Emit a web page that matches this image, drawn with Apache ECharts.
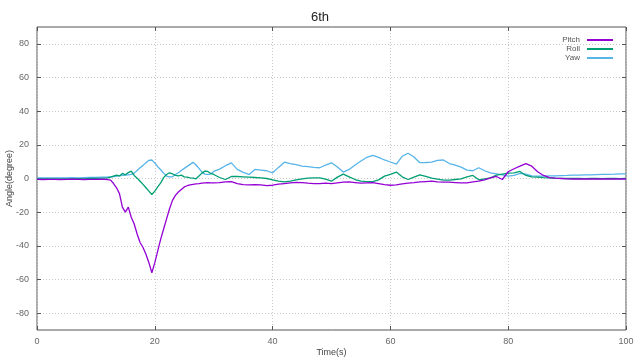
<!DOCTYPE html>
<html><head><meta charset="utf-8">
<script src="https://cdn.jsdelivr.net/npm/echarts@6/dist/echarts.min.js"></script>
<style>html,body{margin:0;padding:0;background:#fff}#c{width:640px;height:360px}</style>
</head><body><div id="c"></div>
<script>
const time = [0,1,2,3,4,5,6,7,8,9,10,11,12,
12.5,13,13.5,14,14.5,15,15.5,16,16.5,17,17.5,18,18.5,19,19.5,20,20.5,21,21.5,22,22.5,23,23.5,24,24.5,25,25.5,26,26.5,27,27.5,28,28.5,29,29.5,30,
31,32,33,34,35,36,37,38,39,40,41,42,43,44,45,46,47,48,49,50,51,52,53,54,55,56,57,58,59,60,61,62,63,64,65,66,67,68,69,70,71,72,73,74,75,76,77,78,79,80,81,82,83,84,85,86,87,88,89,90,91,92,93,94,95,96,97,98,99,100];

const pitch = [-0.5,-0.6,-0.5,-0.5,-0.6,-0.5,-0.4,-0.5,-0.6,-0.5,-0.5,-0.4,-0.6,
-1.0,-3.0,-5.5,-9,-17,-20,-17,-23,-27,-33,-38,-41,-45,-50,-56,-50,-43,-36,-30,-24,-18,-13,-10,-8,-6.5,-5,-4.3,-3.8,-3.5,-3.2,-3.0,-2.7,-2.6,-2.5,-2.6,-2.6,
-2.4,-2.0,-1.8,-3.0,-3.6,-3.8,-3.7,-3.8,-4.2,-4.0,-3.4,-3.0,-2.6,-2.3,-2.4,-2.8,-3.0,-3.0,-2.8,-3.0,-2.6,-2.2,-2.0,-2.4,-2.8,-2.6,-2.4,-3.0,-3.6,-4.0,-3.8,-3.2,-2.8,-2.5,-2.0,-1.8,-1.6,-2.0,-2.2,-2.2,-2.4,-2.6,-2.6,-2.0,-1.6,-0.8,0.4,1.2,-0.6,4.0,5.8,7.3,8.8,7.3,4.0,1.8,0.5,0.2,0,-0.2,-0.3,-0.2,-0.3,-0.2,-0.3,-0.3,-0.2,-0.3,-0.2,-0.3];

const roll = [-0.3,-0.2,-0.3,-0.2,-0.3,-0.2,-0.3,-0.1,-0.2,0,0.1,0.2,0.4,
0.8,1.4,2.0,1.5,3.0,2.2,3.5,4.4,1.8,0.2,-1.6,-3.5,-5.5,-7.5,-9.5,-7.5,-5.0,-2.6,0.5,2.4,3.4,2.8,1.8,1.5,2.0,1.0,0.8,0.4,0.2,-0.2,1.5,3.2,4.4,4.2,3.0,2.4,
0.6,-0.6,1.2,1.2,1.0,0.8,0.6,0.4,0,-0.8,-1.6,-2.0,-1.6,-0.8,-0.2,0.2,0.4,0.4,-0.4,-1.6,0.8,2.6,1.0,-0.6,-1.6,-1.8,-1.8,-0.8,1.4,2.4,3.8,1.0,-0.6,0.8,2.2,1.2,0.2,-0.4,-1.0,-1.0,-0.6,-0.2,1.0,1.8,-0.8,-0.2,0.4,2.0,2.6,3.2,3.4,4.2,1.8,1.0,0.8,0.5,0.4,0.2,0.1,0,0.1,0,-0.1,0,0,-0.1,0,0,-0.1,0];

const yaw = [0.3,0.4,0.3,0.4,0.4,0.3,0.5,0.4,0.5,0.6,0.6,0.8,0.9,
1.0,1.2,1.4,1.6,1.8,2.0,2.2,2.4,3.2,4.8,6.4,7.8,9.3,10.8,11.0,9.3,7.0,5.2,3.2,1.4,1.0,1.0,2.4,3.4,4.8,6.0,7.2,8.4,9.6,8.0,6.0,3.8,2.6,2.4,2.6,4.2,
5.6,7.6,9.3,5.4,3.6,2.4,5.4,5.0,4.6,3.4,6.6,9.7,8.9,8.2,7.4,7.0,6.6,6.4,8.0,9.3,6.8,3.8,5.4,8.0,10.4,12.6,13.8,12.6,11.0,9.8,8.6,13.2,15.0,12.8,9.4,9.5,9.7,10.8,11.0,8.9,8.0,6.8,5.0,4.6,6.4,4.6,3.4,2.8,2.2,1.4,1.8,3.0,2.6,1.6,1.4,1.4,1.5,1.6,1.7,1.8,2.0,2.0,2.1,2.2,2.3,2.4,2.5,2.6,2.8,2.8];

const seriesNames = ['Pitch','Roll','Yaw'];
const seriesData = [pitch, roll, yaw];
const colors = ['#9400d3','#009e73','#56b4e9'];
const yTicks = [-80,-60,-40,-20,0,20,40,60,80];

const chart = echarts.init(document.getElementById('c'), null, {renderer:'canvas'});
const pair = v => time.map((t,i)=>[t,v[i]]);
const font = 'Liberation Sans, Arial, sans-serif';
const lbl = {color:'#666', fontSize:9, fontFamily:font};
chart.setOption({
  animation:false,
  backgroundColor:'#fff',
  title:{text:'6th', left:'center', top:6, textStyle:{fontSize:13, fontWeight:'normal', color:'#222', fontFamily:font}},
  grid:{left:37, right:14, top:27, bottom:30, show:true, borderColor:'#555', borderWidth:1, containLabel:false, outerBoundsMode:'none'},
  legend:{
    data:seriesNames, orient:'vertical', right:22, top:31, align:'right',
    itemWidth:26, itemHeight:2, itemGap:1,
    icon:'rect',
    textStyle:{fontSize:8, color:'#555', fontFamily:font, padding:[0,2,0,0]}
  },
  xAxis:[{
    type:'value', min:0, max:100, interval:20,
    name:'Time(s)', nameLocation:'middle', nameGap:18, nameMoveOverlap:false, nameTextStyle:{color:'#444', fontSize:9, fontFamily:font},
    axisLine:{show:false, onZero:false},
    axisTick:{inside:true, length:4, lineStyle:{color:'#555'}},
    axisLabel:Object.assign({margin:7}, lbl),
    splitLine:{show:true, lineStyle:{color:'#c8c8c8', type:[1,2], width:1}}
  },{
    type:'value', position:'top', min:0, max:100, interval:20,
    axisLine:{show:false, onZero:false}, axisTick:{inside:true, length:4, lineStyle:{color:'#555'}},
    axisLabel:{show:false}, splitLine:{show:false}
  }],
  yAxis:[{
    type:'value', min:-90, max:90, interval:20,
    name:'Angle(degree)', nameLocation:'middle', nameGap:23, nameMoveOverlap:false, nameTextStyle:{color:'#444', fontSize:9, fontFamily:font},
    axisLine:{show:false, onZero:false},
    axisTick:{inside:true, length:4, lineStyle:{color:'#555'}, customValues:yTicks},
    axisLabel:Object.assign({margin:8, customValues:yTicks}, lbl),
    splitLine:{show:true, lineStyle:{color:'#c8c8c8', type:[1,2], width:1}}
  },{
    type:'value', position:'right', min:-90, max:90, interval:20,
    axisLine:{show:false, onZero:false}, axisTick:{inside:true, length:4, lineStyle:{color:'#555'}, customValues:yTicks},
    axisLabel:{show:false}, splitLine:{show:false}
  }],
  series: seriesNames.map((n,i)=>({
    name:n, type:'line', data:pair(seriesData[i]), showSymbol:false, symbol:'none',
    lineStyle:{width:1.3, color:colors[i]}, itemStyle:{color:colors[i]}, xAxisIndex:0, yAxisIndex:0, z:3-i
  }))
});
</script></body></html>
